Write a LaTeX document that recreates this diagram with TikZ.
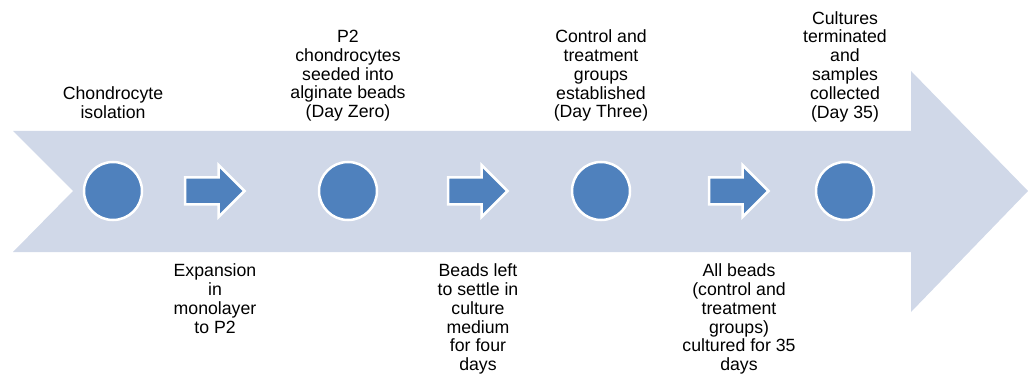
\documentclass[tikz,border=0pt]{standalone}
\usepackage{fontspec}
\setmainfont{Liberation Sans}
\definecolor{bandfill}{HTML}{D0D8E8}
\definecolor{beadblue}{HTML}{4F81BD}
\begin{document}
\begin{tikzpicture}[x=1pt,y=-1pt,
  band/.style={fill=bandfill,draw=none},
  bead/.style={circle,fill=beadblue,draw=white,line width=2.5pt,minimum size=58pt,inner sep=0pt},
  stepshape/.style={fill=beadblue,draw=white,line width=2.5pt,line join=miter},
  lbl/.style={align=center,inner sep=0pt,font=\fontsize{17.7}{18.8}\selectfont},
  stepper/.pic={
    \path[stepshape] (-30,-13.5) -- (3.5,-13.5) -- (3.5,-26) -- (29.5,0)
      -- (3.5,26) -- (3.5,13.5) -- (-30,13.5) -- cycle;
  }]
\useasboundingbox (0,0) rectangle (1028,374);

% timeline band with notched tail and wide head
\fill[band] (13,131) -- (911,131) -- (911,71) -- (1028,191) -- (911,312)
  -- (911,252) -- (13,252) -- (73,191) -- cycle;

% milestone beads
\node[bead] (b1) at (113,191) {};
\node[bead] (b2) at (348,191) {};
\node[bead] (b3) at (601,191) {};
\node[bead] (b4) at (845,191) {};

% step arrows between the milestones
\pic (s1) at (215,191) {stepper};
\pic (s2) at (478,191) {stepper};
\pic (s3) at (739,191) {stepper};

% milestone captions
\node[lbl,anchor=north] (t1) at (113,86.4) {Chondrocyte\\isolation};
\node[lbl,anchor=north] (t2) at (348,30) {P2\\chondrocytes\\seeded into\\alginate beads\\(Day Zero)};
\node[lbl,anchor=north] (t3) at (601,29.7) {Control and\\treatment\\groups\\established\\(Day Three)};
\node[lbl,anchor=north] (t4) at (845,11) {Cultures\\terminated\\and\\samples\\collected\\(Day 35)};

% step captions
\node[lbl,anchor=north] (u1) at (215,263.8) {Expansion\\in\\monolayer\\to P2};
\node[lbl,anchor=north] (u2) at (478,263.6) {Beads left\\to settle in\\culture\\medium\\for four\\days};
\node[lbl,anchor=north] (u3) at (739,263.6) {All beads\\(control and\\treatment\\groups)\\cultured for 35\\days};
\end{tikzpicture}
\end{document}
